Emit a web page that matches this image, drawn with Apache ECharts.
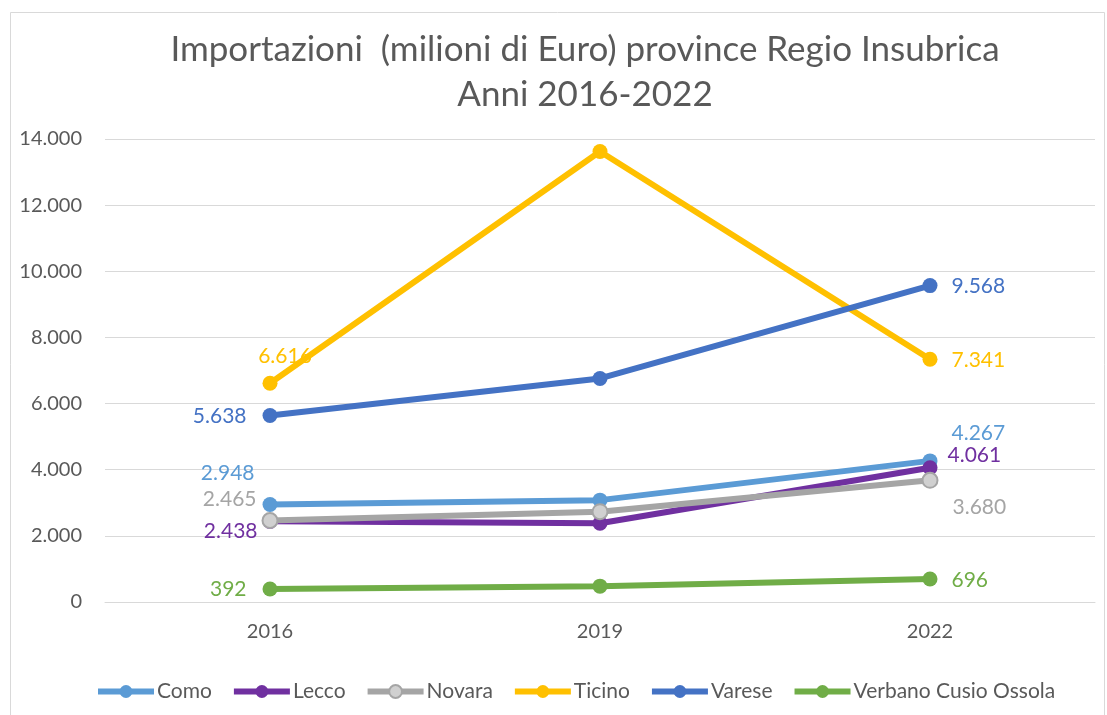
<!DOCTYPE html>
<html>
<head>
<meta charset="utf-8">
<script src="https://cdn.jsdelivr.net/npm/echarts@6/dist/echarts.min.js"></script>
<style>
  html, body { margin: 0; padding: 0; background: #fff; }
  #chart { width: 1107px; height: 715px; }
</style>
</head>
<body>
<div id="chart"></div>
<script>
const years = ['2016', '2019', '2022']
const como = [2948, 3080, 4267]
const lecco = [2438, 2380, 4061]
const novara = [2465, 2730, 3680]
const ticino = [6616, 13620, 7341]
const varese = [5638, 6760, 9568]
const verbano = [392, 480, 696]
const yTicks = [0, 2000, 4000, 6000, 8000, 10000, 12000, 14000]

const fmt = v => String(v).replace(/\B(?=(\d{3})+(?!\d))/g, '.')

// label placement for first / last point of each series
const seriesDefs = [
  { name: 'Como', data: como, color: '#5B9BD5', first: ['left', 8, -31], last: ['right', 0, -28] },
  { name: 'Lecco', data: lecco, color: '#7030A0', first: ['left', 11, 10], last: ['right', -4, -12] },
  { name: 'Novara', data: novara, color: '#A5A5A5', fill: '#D0D0D0', first: ['left', 11, -21], last: ['right', 0, 27] },
  { name: 'Ticino', data: ticino, color: '#FFC000', first: ['top', 15, 0], last: ['right', 0, 1] },
  { name: 'Varese', data: varese, color: '#4472C4', first: ['left', 0, 1], last: ['right', 0, 1] },
  { name: 'Verbano Cusio Ossola', data: verbano, color: '#70AD47', first: ['left', 0, 0], last: ['right', 0, 1] }
]

const mkLabel = (cfg, color) => ({
  show: true,
  position: cfg[0],
  distance: cfg[0] === 'top' ? 9 : (cfg[0] === 'left' ? 16 : 14),
  offset: [cfg[1], cfg[2]],
  color: color,
  fontFamily: 'Lato',
  fontSize: 21,
  formatter: p => fmt(p.value)
})

const series = seriesDefs.map(s => ({
  name: s.name,
  type: 'line',
  symbol: 'circle',
  symbolSize: 15,
  lineStyle: { width: 6, color: s.color },
  itemStyle: { color: s.fill || s.color, borderColor: s.color, borderWidth: s.fill ? 2 : 0 },
  label: { show: false },
  emphasis: { disabled: true },
  data: s.data.map((v, i) => {
    let item = { value: v }
    if (i === 0) item.label = mkLabel(s.first, s.color)
    if (i === s.data.length - 1) item.label = mkLabel(s.last, s.color)
    return item
  })
}))

const myChart = echarts.init(document.getElementById('chart'))
const option = {
  animation: false,
  backgroundColor: '#fff',
  title: {
    text: 'Importazioni  (milioni di Euro) province Regio Insubrica\nAnni 2016-2022',
    left: 580,
    top: 22,
    textAlign: 'center',
    textStyle: {
      fontFamily: 'Lato',
      fontWeight: 'normal',
      fontSize: 35,
      lineHeight: 45,
      color: '#595959'
    }
  },
  graphic: [{
    type: 'rect',
    shape: { x: 10.5, y: 12.5, width: 1094, height: 720 },
    style: { fill: 'none', stroke: '#D9D9D9', lineWidth: 1 },
    silent: true,
    z: -1
  }],
  legend: {
    bottom: 8,
    left: 90,
    itemWidth: 56,
    itemHeight: 16,
    itemGap: 19,
    lineStyle: { width: 6 },
    textStyle: { fontFamily: 'Lato', fontSize: 21, color: '#595959', padding: [0, 0, 0, -2] },
    data: seriesDefs.map(s => s.name)
  },
  grid: { left: 105, right: 12, top: 139, bottom: 113 },
  xAxis: {
    type: 'category',
    data: years,
    boundaryGap: true,
    axisLine: { lineStyle: { color: '#D9D9D9', width: 1 } },
    axisTick: { show: false },
    axisLabel: { fontFamily: 'Lato', fontSize: 20, color: '#595959', margin: 20 }
  },
  yAxis: {
    type: 'value',
    min: yTicks[0],
    max: yTicks[yTicks.length - 1],
    interval: 2000,
    axisLine: { show: false },
    axisTick: { show: false },
    splitLine: { lineStyle: { color: '#D9D9D9', width: 1 } },
    axisLabel: { fontFamily: 'Lato', fontSize: 20, color: '#595959', margin: 23, formatter: v => fmt(v) }
  },
  series: series
}
myChart.setOption(option)
</script>
</body>
</html>
